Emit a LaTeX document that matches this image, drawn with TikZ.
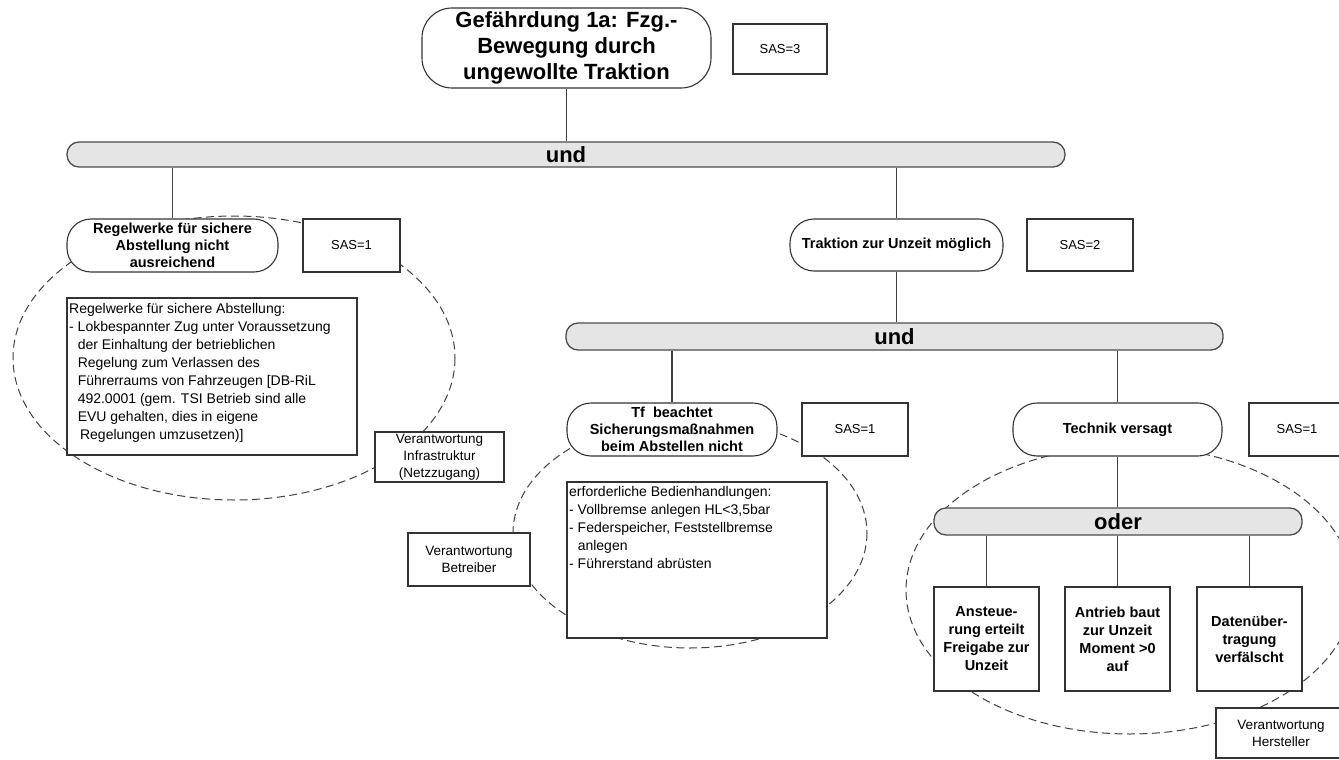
\documentclass[tikz,border=0pt]{standalone}
\usepackage{fontspec}
\setmainfont{Liberation Sans}
\begin{document}
\begin{tikzpicture}[x=1pt,y=-1pt,
  lc/.style={draw=black!75, line width=1.1pt},
  rnode/.style={draw=black!80, line width=1.1pt, fill=white, rounded corners=24pt, inner sep=2pt, align=center, font=\fontsize{14.5}{17}\selectfont\bfseries},
  tnode/.style={draw=black!80, line width=1.1pt, fill=white, rounded corners=30pt, inner sep=2pt, align=center, font=\fontsize{22}{26}\selectfont\bfseries},
  sasbox/.style={draw=black!80, line width=1.1pt, fill=white, align=center, font=\fontsize{13}{16}\selectfont},
  verbox/.style={draw=black!80, line width=1.1pt, fill=white, align=center, inner sep=1pt, font=\fontsize{13.5}{17}\selectfont},
  txtbox/.style={draw=black!80, line width=1.1pt, fill=white},
  bbox/.style={draw=black!80, line width=1.1pt, fill=white, align=center, font=\fontsize{14.5}{18}\selectfont\bfseries},
  gbar/.style={draw=black!70, line width=1.3pt, fill=black!10, rounded corners=12pt, font=\fontsize{22}{24}\selectfont\bfseries, inner sep=0pt},
  dsh/.style={draw=black!75, line width=1pt, dash pattern=on 8pt off 4.5pt}
]
\useasboundingbox (0,0) rectangle (1339,760);
\clip (0,0) rectangle (1339,760);
% dashed ellipses (drawn first)
\draw[dsh] (234,358) ellipse [x radius=221, y radius=142];
\draw[dsh] (690,533) ellipse [x radius=177, y radius=115];
\draw[dsh] (1130,590) ellipse [x radius=224, y radius=144];

% top
\node[tnode, minimum width=289pt, minimum height=80pt] (top) at (566.5,48) {Gefährdung 1a: Fzg.-\\Bewegung durch\\ungewollte Traktion};
\node[sasbox, minimum width=94pt, minimum height=50pt] (sas3) at (780,49) {SAS=3};
\node[gbar, minimum width=998pt, minimum height=25pt] (und1) at (566,154.5) {und};
\draw[lc] (top.south) -- (top.south |- und1.north);

% left branch
\node[rnode, minimum width=211pt, minimum height=53pt] (reg) at (172.5,245.5) {Regelwerke für sichere\\Abstellung nicht\\ausreichend};
\node[sasbox, minimum width=97pt, minimum height=53pt] (sasreg) at (351.5,245.5) {SAS=1};
\draw[lc] (und1.south -| reg.north) -- (reg.north);
\node[txtbox, minimum width=290pt, minimum height=157pt] (regtxt) at (212,376.5) {};
\node[anchor=north west, inner sep=0pt, align=left, font=\fontsize{14}{18}\selectfont] (regtxtc) at (69,303)
 {Regelwerke für sichere Abstellung:\\
  - Lokbespannter Zug unter Voraussetzung\\
  \phantom{- }der Einhaltung der betrieblichen\\
  \phantom{- }Regelung zum Verlassen des\\
  \phantom{- }Führerraums von Fahrzeugen [DB-RiL\\
  \phantom{- }492.0001 (gem. TSI Betrieb sind alle\\
  \phantom{- }EVU gehalten, dies in eigene\\
  \phantom{- }\,Regelungen umzusetzen)]};
\node[verbox, minimum width=129pt, minimum height=50pt] (verinf) at (439.5,457) {Verantwortung\\Infrastruktur\\(Netzzugang)};

% right branch
\node[rnode, minimum width=213pt, minimum height=52pt] (trak) at (896.5,245) {Traktion zur Unzeit möglich};
\node[sasbox, minimum width=106pt, minimum height=52pt] (sastrak) at (1080,245) {SAS=2};
\draw[lc] (und1.south -| trak.north) -- (trak.north);
\node[gbar, minimum width=657pt, minimum height=27pt] (und2) at (894.5,336.5) {und};
\draw[lc] (trak.south) -- (trak.south |- und2.north);

% Tf
\node[rnode, minimum width=210pt, minimum height=53pt] (tf) at (672,429.5) {Tf\ \ beachtet\\Sicherungsmaßnahmen\\beim Abstellen nicht};
\node[sasbox, minimum width=106pt, minimum height=53pt] (sastf) at (855,429.5) {SAS=1};
\draw[lc] (und2.south -| tf.north) -- (tf.north);
\node[txtbox, minimum width=260pt, minimum height=156pt] (tftxt) at (697,560) {};
\node[anchor=north west, inner sep=0pt, align=left, font=\fontsize{14}{18}\selectfont] (tftxtc) at (569,486)
 {erforderliche Bedienhandlungen:\\
  - Vollbremse anlegen HL<3,5bar\\
  - Federspeicher, Feststellbremse\\
  \phantom{- }anlegen\\
  - Führerstand abrüsten};
\node[verbox, minimum width=122pt, minimum height=53pt] (verbet) at (469,559.5) {Verantwortung\\Betreiber};

% Technik
\node[rnode, minimum width=209pt, minimum height=53pt] (tech) at (1117.5,429.5) {Technik versagt};
\node[sasbox, minimum width=96pt, minimum height=53pt] (sastech) at (1297,429.5) {SAS=1};
\draw[lc] (und2.south -| tech.north) -- (tech.north);
\node[gbar, minimum width=368pt, minimum height=27pt] (oder) at (1118,521.5) {oder};
\draw[lc] (tech.south) -- (tech.south |- oder.north);

\node[bbox, minimum width=105pt, minimum height=104pt] (b1) at (986.5,639) {Ansteue-\\rung erteilt\\Freigabe zur\\Unzeit};
\node[bbox, minimum width=105pt, minimum height=104pt] (b2) at (1117.5,639) {Antrieb baut\\zur Unzeit\\Moment >0\\auf};
\node[bbox, minimum width=105pt, minimum height=104pt] (b3) at (1249.5,639) {Datenüber-\\tragung\\verfälscht};
\draw[lc] (oder.south -| b1.north) -- (b1.north);
\draw[lc] (oder.south -| b2.north) -- (b2.north);
\draw[lc] (oder.south -| b3.north) -- (b3.north);
\node[verbox, minimum width=130pt, minimum height=50pt] (verher) at (1281,733) {Verantwortung\\Hersteller};
\end{tikzpicture}
\end{document}
